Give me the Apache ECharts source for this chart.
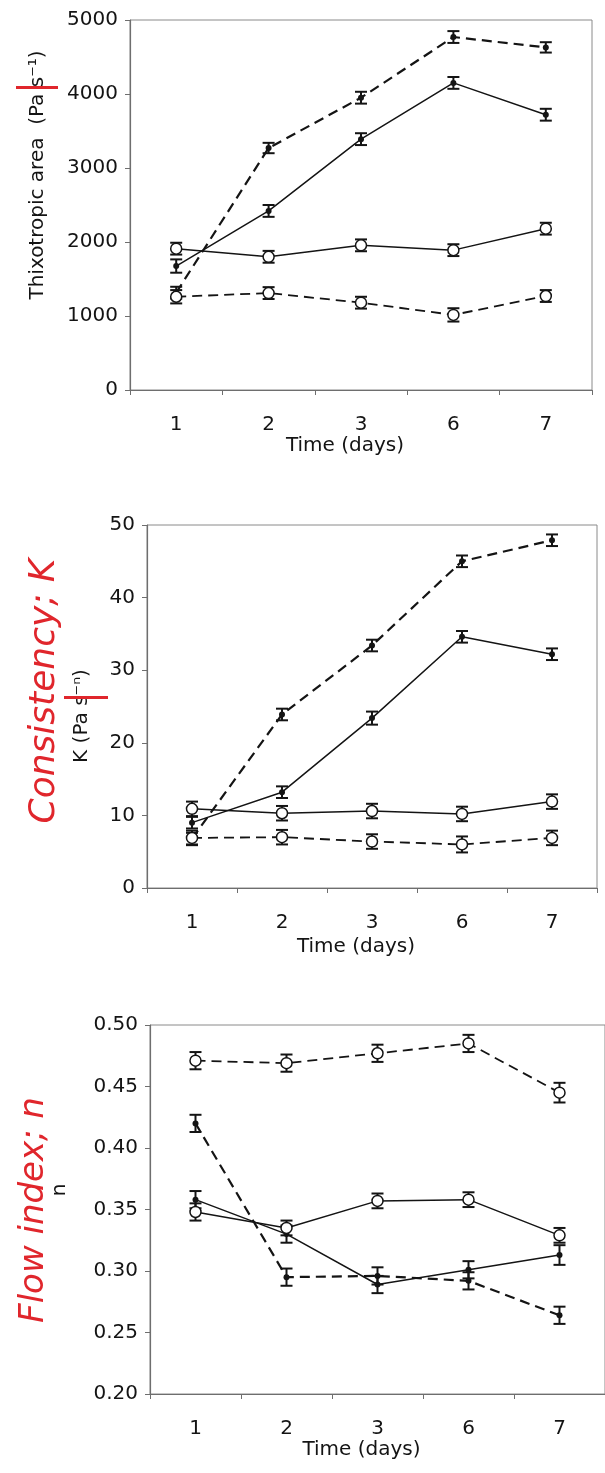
<!DOCTYPE html>
<html>
<head>
    <meta charset="utf-8">
    <script src="https://cdn.jsdelivr.net/npm/echarts@6.0.0/dist/echarts.min.js"></script>
    <title>Thixotropy, K and n</title>
    <style>
        html, body { margin: 0; padding: 0; background: #fff; }
        #main { width: 605px; height: 1473px; }
    </style>
</head>
<body>
<div id="main"></div>
<script type="text/javascript">
    // categories (days)
    var days = ['1', '2', '3', '6', '7'];

    // chart 1 - thixotropic area
    var thixFilledDash = [1315, 3270, 3950, 4770, 4630];
    var thixFilledDashErr = [80, 70, 80, 80, 70];
    var thixFilledSolid = [1675, 2420, 3390, 4150, 3720];
    var thixFilledSolidErr = [90, 80, 80, 80, 80];
    var thixOpenSolid = [1910, 1800, 1955, 1890, 2180];
    var thixOpenSolidErr = [80, 80, 80, 80, 80];
    var thixOpenDash = [1260, 1310, 1180, 1015, 1270];
    var thixOpenDashErr = [90, 80, 80, 90, 80];

    // chart 2 - consistency K
    var kFilledDash = [6.8, 23.9, 33.4, 45.0, 47.9];
    var kFilledDashErr = [0.8, 0.8, 0.8, 0.8, 0.8];
    var kFilledSolid = [9.0, 13.2, 23.4, 34.6, 32.2];
    var kFilledSolidErr = [0.8, 0.8, 0.9, 0.8, 0.8];
    var kOpenSolid = [10.9, 10.3, 10.6, 10.2, 11.9];
    var kOpenSolidErr = [1.0, 1.0, 1.0, 1.0, 1.0];
    var kOpenDash = [6.9, 7.0, 6.4, 6.0, 6.9];
    var kOpenDashErr = [1.0, 1.0, 1.0, 1.1, 1.0];

    // chart 3 - flow index n
    var nFilledDash = [0.420, 0.295, 0.296, 0.292, 0.264];
    var nFilledDashErr = [0.007, 0.007, 0.007, 0.007, 0.007];
    var nFilledSolid = [0.358, 0.330, 0.289, 0.301, 0.313];
    var nFilledSolidErr = [0.007, 0.007, 0.007, 0.007, 0.008];
    var nOpenSolid = [0.348, 0.335, 0.357, 0.358, 0.329];
    var nOpenSolidErr = [0.007, 0.006, 0.006, 0.006, 0.006];
    var nOpenDash = [0.471, 0.469, 0.477, 0.485, 0.445];
    var nOpenDashErr = [0.007, 0.007, 0.007, 0.007, 0.008];

    var font = 'DejaVu Sans';
    var ink = '#141414';
    var axisGrey = '#6e6e6e';
    var red = '#e0262c';

    function errBars(idx, vals, errs) {
        return {
            type: 'custom',
            xAxisIndex: idx,
            yAxisIndex: idx,
            silent: true,
            z: 3,
            data: vals.map(function (v, i) { return [i, v - errs[i], v + errs[i]]; }),
            renderItem: function (params, api) {
                var lo = api.coord([api.value(0), api.value(1)]);
                var hi = api.coord([api.value(0), api.value(2)]);
                var w = 6;
                var st = { stroke: ink, lineWidth: 2 };
                return {
                    type: 'group',
                    children: [
                        { type: 'line', shape: { x1: lo[0], y1: lo[1], x2: hi[0], y2: hi[1] }, style: st },
                        { type: 'line', shape: { x1: lo[0] - w, y1: lo[1], x2: lo[0] + w, y2: lo[1] }, style: st },
                        { type: 'line', shape: { x1: hi[0] - w, y1: hi[1], x2: hi[0] + w, y2: hi[1] }, style: st }
                    ]
                };
            }
        };
    }

    function line(idx, vals, filled, dashed) {
        return {
            type: 'line',
            xAxisIndex: idx,
            yAxisIndex: idx,
            data: vals,
            z: 4,
            symbol: 'circle',
            symbolSize: filled ? 6 : 11,
            itemStyle: filled ? { color: ink } : { color: '#fff', borderColor: ink, borderWidth: 1.5 },
            lineStyle: {
                color: ink,
                width: dashed ? (filled ? 2.2 : 1.8) : 1.5,
                type: dashed ? [10, 6] : 'solid'
            }
        };
    }

    function xAx(idx, gap) {
        return {
            type: 'category',
            gridIndex: idx,
            data: days,
            boundaryGap: true,
            name: 'Time (days)',
            nameLocation: 'middle',
            nameGap: gap,
            nameTextStyle: { fontFamily: font, fontSize: 20, color: ink, padding: [0, 32, 0, 0] },
            axisLine: { lineStyle: { color: axisGrey, width: 1.2 } },
            axisTick: { show: true, length: 5, lineStyle: { color: axisGrey } },
            axisLabel: { margin: 25, fontFamily: font, fontSize: 20, color: ink },
            splitLine: { show: false }
        };
    }

    function yAx(idx, min, max, step, dec) {
        return {
            type: 'value',
            gridIndex: idx,
            min: min,
            max: max,
            interval: step,
            axisLine: { show: true, lineStyle: { color: axisGrey, width: 1.2 } },
            axisTick: { show: true, length: 5, lineStyle: { color: axisGrey } },
            axisLabel: {
                margin: 12, fontFamily: font, fontSize: 20, color: ink,
                formatter: function (v) { return v.toFixed(dec); }
            },
            splitLine: { show: false }
        };
    }

    var gridStyle = { show: true, borderColor: '#8a8a8a', borderWidth: 1, backgroundColor: 'transparent' };

    var myChart = echarts.init(document.getElementById('main'));
    var option = {
        backgroundColor: '#fff',
        animation: false,
        grid: [
            Object.assign({ left: 130, top: 20, width: 462, height: 370 }, gridStyle),
            Object.assign({ left: 147, top: 525, width: 450, height: 363 }, gridStyle),
            Object.assign({ left: 150, top: 1025, width: 461, height: 369 }, gridStyle)
        ],
        xAxis: [xAx(0, 46), xAx(1, 49), xAx(2, 45)],
        yAxis: [yAx(0, 0, 5000, 1000, 0), yAx(1, 0, 50, 10, 0), yAx(2, 0.2, 0.5, 0.05, 2)],
        series: [
            errBars(0, thixFilledDash, thixFilledDashErr),
            errBars(0, thixFilledSolid, thixFilledSolidErr),
            errBars(0, thixOpenSolid, thixOpenSolidErr),
            errBars(0, thixOpenDash, thixOpenDashErr),
            line(0, thixFilledDash, true, true),
            line(0, thixFilledSolid, true, false),
            line(0, thixOpenSolid, false, false),
            line(0, thixOpenDash, false, true),

            errBars(1, kFilledDash, kFilledDashErr),
            errBars(1, kFilledSolid, kFilledSolidErr),
            errBars(1, kOpenSolid, kOpenSolidErr),
            errBars(1, kOpenDash, kOpenDashErr),
            line(1, kFilledDash, true, true),
            line(1, kFilledSolid, true, false),
            line(1, kOpenSolid, false, false),
            line(1, kOpenDash, false, true),

            errBars(2, nFilledDash, nFilledDashErr),
            errBars(2, nFilledSolid, nFilledSolidErr),
            errBars(2, nOpenSolid, nOpenSolidErr),
            errBars(2, nOpenDash, nOpenDashErr),
            line(2, nFilledDash, true, true),
            line(2, nFilledSolid, true, false),
            line(2, nOpenSolid, false, false),
            line(2, nOpenDash, false, true)
        ],
        graphic: [
            // y axis titles and the red handwritten notes
            { type: 'text', x: 38, y: 175, rotation: Math.PI / 2,
              style: { text: 'Thixotropic area  (Pa s\u207B\u00B9)', font: '20px "DejaVu Sans"', fill: ink, align: 'center', verticalAlign: 'middle' } },
            { type: 'rect', shape: { x: 16, y: 86, width: 42, height: 3 }, style: { fill: red } },

            { type: 'text', x: 82, y: 716, rotation: Math.PI / 2,
              style: { text: 'K (Pa s\u207B\u207F)', font: '20px "DejaVu Sans"', fill: ink, align: 'center', verticalAlign: 'middle' } },
            { type: 'rect', shape: { x: 64, y: 696, width: 44, height: 3 }, style: { fill: red } },
            { type: 'text', x: 45, y: 691, rotation: Math.PI / 2,
              style: { text: 'Consistency; K', font: 'italic 36px "DejaVu Sans"', fill: red, align: 'center', verticalAlign: 'middle' } },

            { type: 'text', x: 60, y: 1190, rotation: Math.PI / 2,
              style: { text: 'n', font: '20px "DejaVu Sans"', fill: ink, align: 'center', verticalAlign: 'middle' } },
            { type: 'text', x: 34, y: 1210, rotation: Math.PI / 2,
              style: { text: 'Flow index; n', font: 'italic 34px "DejaVu Sans"', fill: red, align: 'center', verticalAlign: 'middle' } }
        ]
    };
    myChart.setOption(option);
</script>
</body>
</html>
